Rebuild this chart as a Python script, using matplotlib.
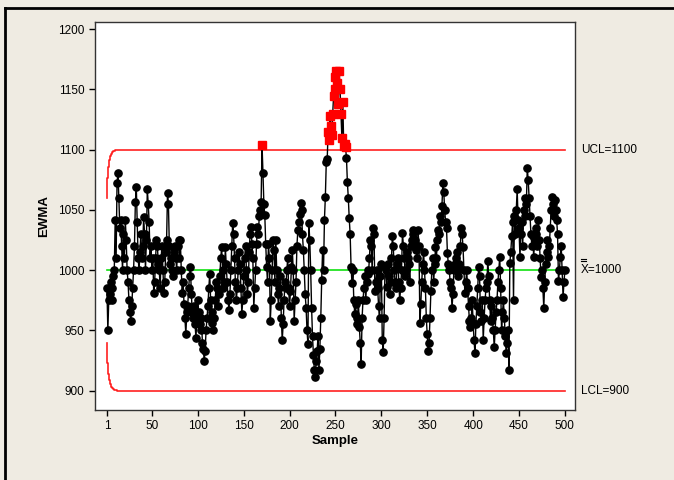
import matplotlib
matplotlib.use("Agg")
import matplotlib.pyplot as plt
from matplotlib.lines import Line2D
import matplotlib.transforms as mtransforms
import numpy as np

plt.rcParams['font.family'] = ['Liberation Sans', 'DejaVu Sans']

# EWMA values, samples 1..500
ewma = [
    985, 950, 975, 980, 990, 985, 975, 995, 1000, 1042,
    1010, 1072, 1081, 1060, 1035, 1042, 1020, 1000, 1030, 1010,
    1042, 1025, 1000, 990, 975, 965, 958, 970, 985, 1000,
    1020, 1057, 1069, 1040, 1010, 1000, 1015, 1030, 1010, 1020,
    1044, 1030, 1000, 1025, 1067, 1055, 1040, 1010, 1020, 1000,
    1010, 981, 990, 1010, 1025, 1020, 1005, 1000, 985, 1010,
    1020, 1000, 981, 990, 1015, 1025, 1064, 1055, 1020, 1005,
    1010, 1000, 995, 1015, 1020, 1010, 1000, 1020, 1025, 1010,
    1025, 1000, 981, 990, 972, 960, 947, 965, 970, 985,
    995, 1003, 980, 965, 960, 970, 955, 944, 960, 975,
    965, 955, 950, 960, 940, 935, 925, 933, 950, 960,
    970, 985, 997, 975, 965, 956, 950, 960, 975, 990,
    985, 970, 980, 995, 1010, 1019, 1000, 985, 990, 1019,
    1005, 990, 975, 967, 980, 1000, 1020, 1039, 1030, 1010,
    990, 975, 985, 1000, 1015, 1005, 985, 964, 975, 995,
    1010, 1020, 1000, 980, 990, 1015, 1030, 1036, 1022, 1010,
    969, 985, 1000, 1022, 1036, 1030, 1045, 1050, 1057, 1104,
    1081, 1055, 1046, 1022, 1003, 990, 1022, 1010, 958, 975,
    1000, 1025, 1017, 990, 1025, 1000, 980, 970, 985, 995,
    960, 942, 955, 975, 990, 985, 1000, 1010, 985, 970,
    983, 1003, 1017, 1000, 958, 975, 990, 1020, 1033, 1040,
    1047, 1056, 1050, 1030, 1017, 1000, 980, 969, 950, 939,
    1039, 1025, 1000, 969, 945, 930, 917, 911, 925, 933,
    945, 917, 935, 960, 992, 1017, 1000, 1042, 1061, 1090,
    1092, 1115, 1108, 1128, 1120, 1112, 1130, 1145, 1160, 1150,
    1165, 1155, 1138, 1165, 1150, 1130, 1110, 1140, 1103, 1105,
    1102, 1093, 1073, 1060, 1043, 1030, 1003, 989, 1000, 975,
    964, 972, 955, 960, 975, 953, 940, 922, 960, 975,
    985, 995, 975, 990, 1000, 997, 1010, 1025, 1020, 1000,
    1035, 1030, 983, 990, 1000, 985, 970, 960, 995, 1005,
    942, 932, 960, 1003, 1000, 986, 1005, 995, 980, 990,
    1010, 1028, 1020, 1000, 990, 985, 1005, 1010, 990, 975,
    985, 1000, 1031, 1020, 1010, 995, 1000, 1015, 1010, 1005,
    990, 1020, 1025, 1030, 1033, 1020, 1025, 1017, 1010, 1033,
    1020, 956, 972, 990, 1005, 1015, 1000, 985, 960, 947,
    933, 940, 960, 983, 1000, 1010, 990, 1005, 1019, 1010,
    1025, 1033, 1030, 1045, 1040, 1053, 1072, 1065, 1050, 1040,
    1035, 1014, 1005, 1000, 990, 985, 969, 980, 1000, 1005,
    1010, 1015, 1000, 995, 1005, 1020, 1035, 1030, 1019, 1000,
    981, 990, 1000, 985, 970, 958, 953, 960, 975, 956,
    942, 931, 955, 970, 985, 1003, 995, 965, 958, 975,
    942, 960, 975, 985, 990, 1008, 995, 975, 958, 970,
    960, 950, 936, 950, 965, 975, 990, 1000, 1011, 985,
    950, 965, 975, 960, 945, 931, 940, 950, 917, 1006,
    1015, 1028, 1040, 975, 1045, 1030, 1050, 1067, 1042, 1035,
    1011, 1030, 1040, 1020, 1050, 1045, 1060, 1055, 1085, 1075,
    1060, 1045, 1030, 1020, 1028, 1011, 1025, 1035, 1030, 1020,
    1042, 1025, 1010, 994, 1000, 985, 969, 990, 1005, 1015,
    1025, 1011, 1020, 1035, 1050, 1061, 1055, 1045, 1058, 1050,
    1042, 1030, 991, 1000, 1011, 1020, 1000, 978, 990, 1000,
]

center = 1000
limit_half_width = 100
# half-width of the limits for the first samples (EWMA start-up)
startup_widths = [60.0, 76.8, 85.9, 91.2, 94.5, 96.5, 97.8, 98.6, 99.1, 99.4, 99.6, 99.8]

x_ticks = [1, 50, 100, 150, 200, 250, 300, 350, 400, 450, 500]
y_ticks = [900, 950, 1000, 1050, 1100, 1150, 1200]

n = len(ewma)
samples = np.arange(1, n + 1)
vals = np.array(ewma, dtype=float)
widths = np.full(n, float(limit_half_width))
widths[:len(startup_widths)] = startup_widths
ucl = center + widths
lcl = center - widths

bg = '#EFEBE2'
fig = plt.figure(figsize=(6.74, 4.80), dpi=100, facecolor=bg)
ax = fig.add_axes([95/674, 1 - 410/480, 480/674, 388/480])
ax.set_facecolor('white')

ax.plot(samples, ucl, color='#FF2020', lw=1.2, drawstyle='steps-mid', zorder=2)
ax.plot(samples, lcl, color='#FF2020', lw=1.2, drawstyle='steps-mid', zorder=2)
ax.plot(samples, np.full(n, center), color='#10E010', lw=1.2, zorder=2)

ax.plot(samples, vals, color='black', lw=1.0, zorder=3)
ooc = (vals > ucl) | (vals < lcl)
ax.plot(samples[~ooc], vals[~ooc], ls='none', marker='o', ms=5.2,
        color='black', zorder=4)
ax.plot(samples[ooc], vals[ooc], ls='none', marker='s', ms=5.8,
        color='#FF0000', zorder=5)

ax.set_xlim(-12, 511)
ax.set_ylim(884, 1206)
ax.set_xticks(x_ticks)
ax.set_yticks(y_ticks)
ax.tick_params(axis='both', direction='out', length=4, width=1, labelsize=8.5,
               colors='black', top=False, right=False)
for s in ax.spines.values():
    s.set_color('#333333')
    s.set_linewidth(1.0)

ax.set_xlabel('Sample', fontsize=9.5, fontweight='bold', labelpad=2)
ax.set_ylabel('EWMA', fontsize=9.5, fontweight='bold', labelpad=6)

tx = 1 + 8/674
ytr = ax.get_yaxis_transform()
ax.text(tx, 1100, 'UCL=1100', transform=ytr, fontsize=8.5, va='center', ha='left')
ax.text(tx, 1000, 'X=1000', transform=ytr, fontsize=8.5, va='center', ha='left')
ax.text(tx, 900, 'LCL=900', transform=ytr, fontsize=8.5, va='center', ha='left')

# double bar above the X (drawn as two short strokes)
for dy in (6.6, 8.2):
    tr = mtransforms.offset_copy(ytr, fig=fig, x=0, y=dy, units='points')
    ax.add_line(Line2D([tx + 0.3/674*674/480*0, tx + 5.6/480], [center, center],
                       transform=tr, color='black', lw=0.8, clip_on=False))

# outer frame (left and top)
fig.add_artist(Line2D([5/674, 5/674], [0, 1 - 8/480], transform=fig.transFigure,
                      color='black', lw=2))
fig.add_artist(Line2D([5/674, 1], [1 - 8/480, 1 - 8/480], transform=fig.transFigure,
                      color='black', lw=2))

fig.savefig('out.png', dpi=100, facecolor=bg)
